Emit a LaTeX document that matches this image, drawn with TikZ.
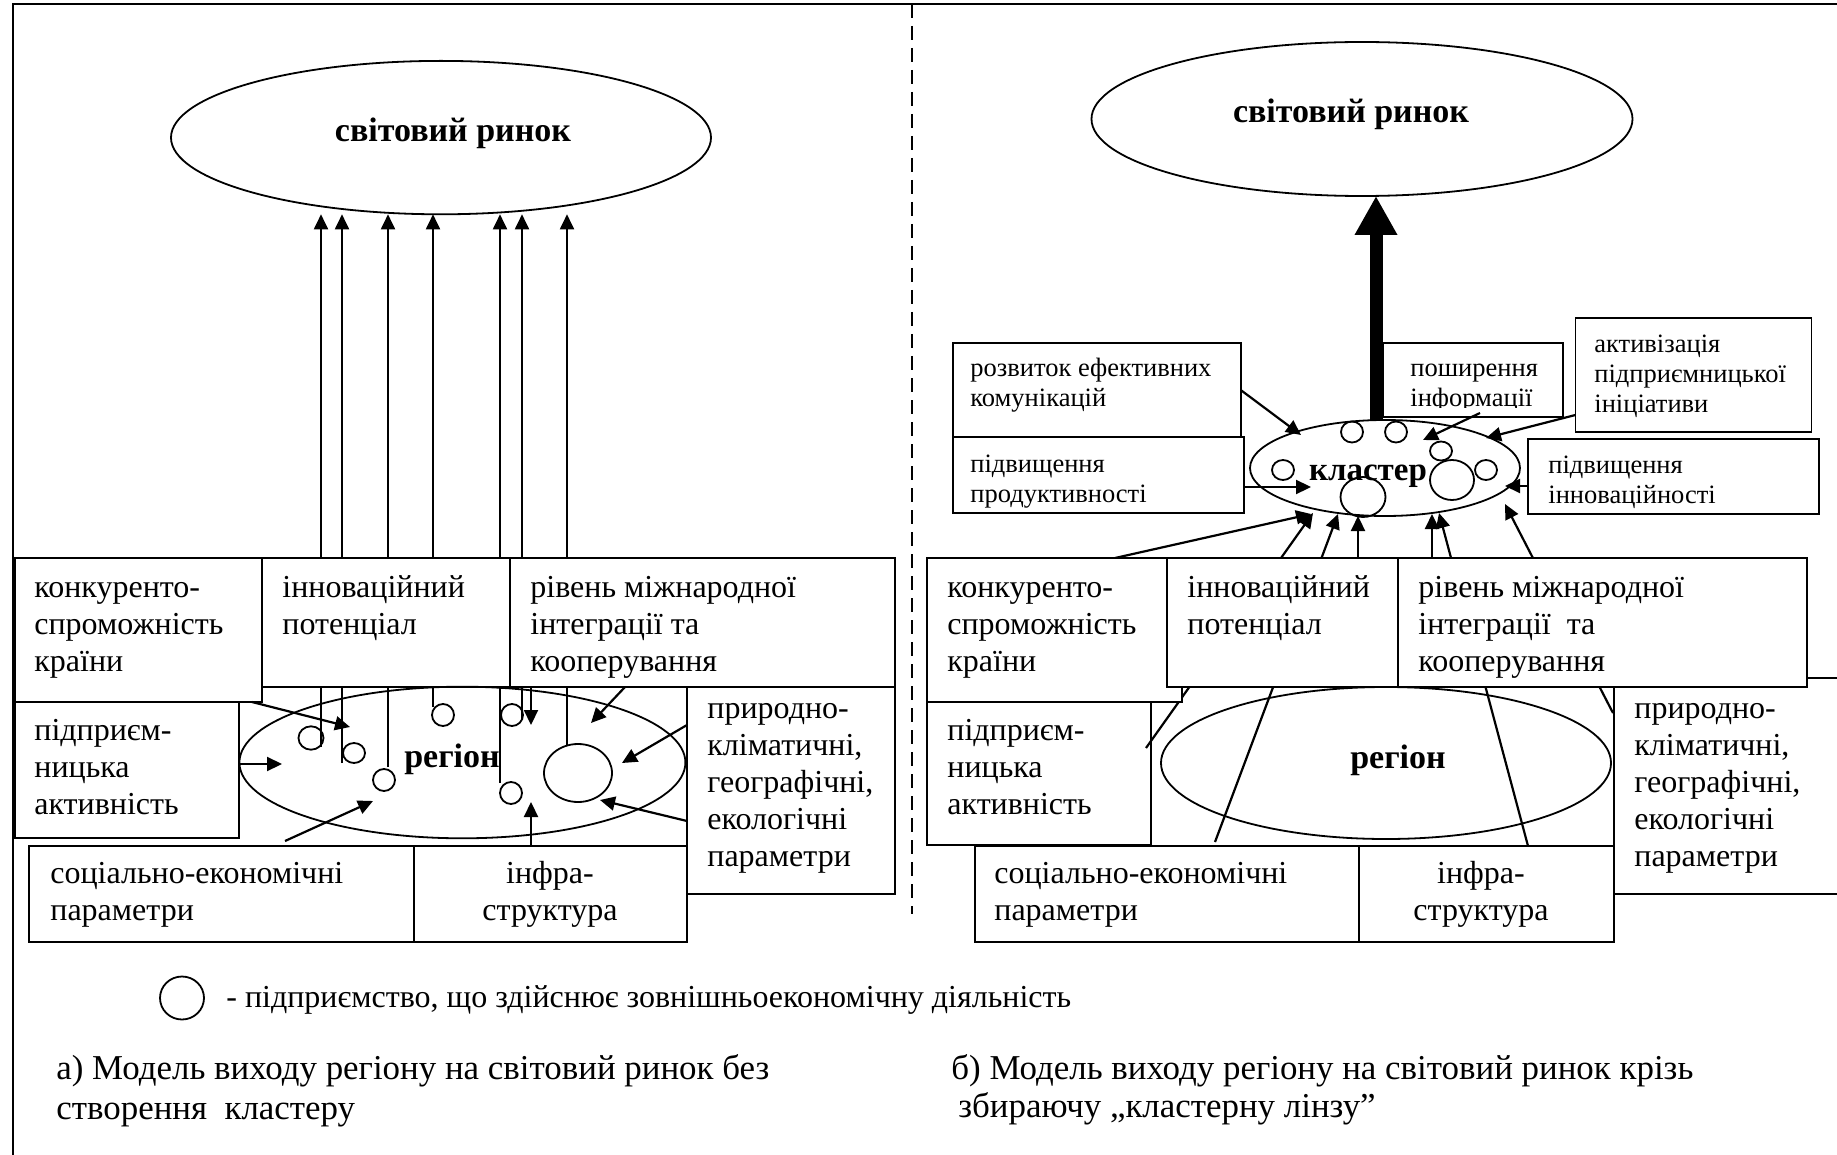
\documentclass[tikz,border=0pt]{standalone}
\usepackage{fontspec}
\setmainfont{Liberation Serif}
\usetikzlibrary{arrows.meta,shapes.geometric,fit}

% multi-line labels whose baseline is the baseline of the first line
\newcommand\stackL[1]{\vtop{\halign{##\hfil\cr#1\crcr}}}
\newcommand\stackC[1]{\vtop{\halign{\hfil##\hfil\cr#1\crcr}}}

\begin{document}
\begin{tikzpicture}[x=0.5pt, y=-0.5pt,
  frame/.style={line width=0.8pt},
  box/.style={draw, line width=0.9pt, fill=white, inner sep=0pt, outer sep=0pt},
  oval/.style={draw, ellipse, line width=0.9pt, inner sep=0pt, outer sep=0pt},
  firm/.style 2 args={draw, ellipse, line width=0.9pt, inner sep=0pt, outer sep=0pt,
    minimum width=#1pt, minimum height=#2pt},
  arr/.style={line width=0.95pt, -{Triangle[length=7.5pt,width=7pt]}},
  arrb/.style={line width=1.1pt, -{Triangle[length=7.5pt,width=7pt]}},
  bigarr/.style={line width=6.5pt, -{Triangle[length=19.5pt,width=20pt]}},
  lbl/.style={inner sep=0pt, anchor=base west, font=\fontsize{16}{18.5}\selectfont},
  lblc/.style={inner sep=0pt, anchor=base, font=\fontsize{16}{18.5}\selectfont},
  sml/.style={inner sep=0pt, anchor=base west, font=\fontsize{13.25}{15}\selectfont},
  head/.style={inner sep=0pt, anchor=base, font=\fontsize{17}{20}\selectfont\bfseries},
  captxt/.style={inner sep=0pt, anchor=base west, font=\fontsize{17.45}{20}\selectfont},
]
\useasboundingbox (0,0) rectangle (1837,1155);
\fill[white] (0,0) rectangle (1837,1155);

% page frame and the dashed divider
\draw[frame] (12.7,1155) -- (12.7,4) -- (1837,4);
\draw[line width=0.6pt, dash pattern=on 7pt off 4pt] (912,4) -- (912,914);

% ================= left panel =================
\node[oval, minimum width=270pt, minimum height=76.7pt] (mkL) at (441,137.6) {};
\node[head] (mkLt) at (453,142) {світовий ринок};

% firms inside the region
\node[firm={12.5}{11.7}] (fL1) at (311,738) {};
\node[firm={11}{10}] (fL2) at (354,753) {};
\node[firm={11}{11}] (fL3) at (384,780) {};
\node[firm={11}{11}] (fL4) at (443,715) {};
\node[firm={11}{11}] (fL5) at (512,715) {};
\node[firm={11}{11}] (fL6) at (511,793) {};
\node[firm={34}{29}] (fL7) at (578,773) {};

% each firm goes to the world market on its own
\foreach \n/\x/\y in {1/321/747, 2/342/763, 3/388/767, 4/433/707, 5/500/783, 6/522/720, 7/567/745}
  {\coordinate (uL\n) at (\x,\y); \draw[arr] (uL\n) -- (uL\n |- mkL.south);}

% factor boxes
\node[box, fit={(15,702) (239,838)}] (pL) {};
\node[box, fit={(29,846) (414,942)}] (sL) {};
\node[box, fit={(414,846) (687,942)}] (iL) {};
\node[box, fit={(687,687) (895,894)}] (prL) {};
\node[box, fit={(15,558) (262,702)}] (kL) {};
\node[box, fit={(262,558) (510,687)}] (nL) {};
\node[box, fit={(510,558) (895,687)}] (rL) {};

\node[oval, minimum width=223pt, minimum height=75.8pt] (regL) at (462.4,762.5) {};
\node[head] (regLt) at (452,767) {регіон};

% influences on the region
\draw[arrb] (kL.south -| 252,0) -- (350,727);
\draw[arrb] (pL.east |- 0,764) -- (282,764);
\draw[arrb] (285,841) -- (373,801);
\draw[arrb] (iL.north -| 531,0) -- (531,802);
\draw[arrb] (rL.south -| 625,0) -- (591,723);
\draw[arrb] (rL.south -| 531,0) -- (531,725);
\draw[arrb] (prL.west |- 0,725) -- (622,763);
\draw[arrb] (prL.west |- 0,821) -- (600,800);

\node[lbl] (tkL) at (34,597) {\stackL{конкуренто-\cr спроможність\cr країни}};
\node[lbl] (tnL) at (282,597) {\stackL{інноваційний\cr потенціал}};
\node[lbl] (trL) at (530,597) {\stackL{рівень міжнародної\cr інтеграції та\cr кооперування}};
\node[lbl] (tpL) at (34,740) {\stackL{підприєм-\cr ницька\cr активність}};
\node[lbl] (tsL) at (50,883) {\stackL{соціально-економічні\cr параметри}};
\node[lblc] (tiL) at (550,883) {\stackC{інфра-\cr структура}};
\node[lbl] (tprL) at (707,718) {\stackL{природно-\cr кліматичні,\cr географічні,\cr екологічні\cr параметри}};

% ================= right panel =================
\node[oval, minimum width=270.5pt, minimum height=77pt] (mkR) at (1362,119) {};
\node[head] (mkRt) at (1351,123) {світовий ринок};

% the cluster
\node[oval, fill=white, minimum width=135pt, minimum height=48pt] (cl) at (1385,468) {};
\node[firm={11}{10.5}] (cR1) at (1352,432) {};
\node[firm={11}{10.5}] (cR2) at (1396,432) {};
\node[firm={11}{9.5}] (cR3) at (1441,451) {};
\node[firm={11}{10}] (cR4) at (1283,470) {};
\node[firm={22.5}{20}] (cR5) at (1363,497) {};
\node[firm={22}{20}] (cR6) at (1452,480) {};
\node[firm={11}{10}] (cR7) at (1486,470) {};
\node[head, font=\fontsize{16.5}{19}\selectfont\bfseries] (clt) at (1368,480) {кластер};

% one joint channel to the world market
\draw[bigarr] (cl.north -| 1376,0) -- (1376,0 |- mkR.south);

% lower factor boxes
\node[box, fit={(927,702) (1151,845)}] (pR) {};
\node[box, fit={(975,846) (1359,942)}] (sR) {};
\node[box, fit={(1359,846) (1614,942)}] (iR) {};
\node[box, fit={(1614,678) (1850,894)}] (prR) {};
\node[oval, minimum width=225pt, minimum height=76pt] (regR) at (1386,763) {};
\node[head] (regRt) at (1398,768) {регіон};

% factors gathered by the cluster lens
\draw[arrb] (1146,748) -- (1313,513);
\draw[arrb] (1215,842) -- (1338,514);
\draw[arrb] (1358,558) -- (1358,516);
\draw[arrb] (1432,558) -- (1432,514);
\draw[arrb] (1528,846) -- (1439,513);
\draw[arrb] (1613,713) -- (1505,504);
\draw[arrb] (1115,558) -- (1311,514);

\node[box, fit={(927,558) (1182,702)}] (kR) {};
\node[box, fit={(1167,558) (1398,687)}] (nR) {};
\node[box, fit={(1398,558) (1807,687)}] (rR) {};

% cluster effects
\node[box, fit={(952.6,342.7) (1240.7,437.3)}] (rozv) {};
\node[box, fit={(952.6,437.3) (1243.7,513.3)}] (prod) {};
\node[box, fit={(1383,342.7) (1563,417)}] (posh) {};
\node[box, fit={(1575.4,318.3) (1811.5,431.7)}] (akt) {};
\node[box, fit={(1527.6,439.3) (1819.3,514)}] (inov) {};

\draw[arrb] (rozv.east |- 0,390) -- (1301,435);
\draw[arrb] (prod.east |- 0,487) -- (1311,487);
\draw[arrb] (1480,413) -- (1423,440);
\draw[arrb] (akt.west |- 0,415) -- (1486,438);
\draw[arrb] (inov.west |- 0,486) -- (1505,486);

\node[sml] (trozv) at (970,377) {\stackL{розвиток ефективних\cr комунікацій}};
\node[sml] (tprod) at (970,472) {\stackL{підвищення\cr продуктивності}};
\begin{scope}
  \clip (1383,342) rectangle (1563,407);
  \node[sml] (tposh) at (1410,377) {\stackL{поширення\cr інформації}};
\end{scope}
\node[sml] (takt) at (1594,352) {\stackL{активізація\cr підприємницької\cr ініціативи}};
\node[sml] (tinov) at (1548,473) {\stackL{підвищення\cr інноваційності}};

\node[lbl] (tkR) at (947,597) {\stackL{конкуренто-\cr спроможність\cr країни}};
\node[lbl] (tnR) at (1187,597) {\stackL{інноваційний\cr потенціал}};
\node[lbl] (trR) at (1418,597) {\stackL{рівень міжнародної\cr інтеграції~ та\cr кооперування}};
\node[lbl] (tpR) at (947,740) {\stackL{підприєм-\cr ницька\cr активність}};
\node[lbl] (tsR) at (994,883) {\stackL{соціально-економічні\cr параметри}};
\node[lblc] (tiR) at (1481,883) {\stackC{інфра-\cr структура}};
\node[lbl] (tprR) at (1634,718) {\stackL{природно-\cr кліматичні,\cr географічні,\cr екологічні\cr параметри}};

% legend and captions
\node[firm={22}{21.5}] (lgc) at (182,998) {};
\node[lbl] (lgt) at (226,1007) {- підприємство, що здійснює зовнішньоекономічну діяльність};
\node[captxt] (capa) at (56,1079) {\stackL{а) Модель виходу регіону на світовий ринок без\cr створення~ кластеру}};
\node[captxt] (capb) at (951,1079) {б) Модель виходу регіону на світовий ринок крізь};
\node[captxt] (capb2) at (958,1117) {збираючу „кластерну лінзу”};
\end{tikzpicture}
\end{document}
